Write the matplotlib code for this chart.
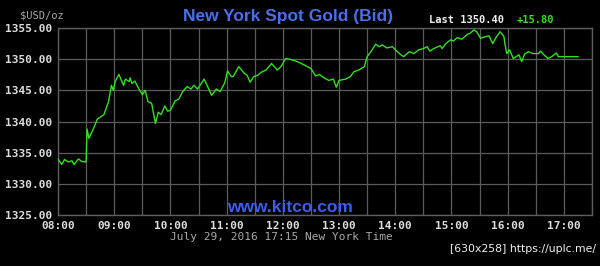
import matplotlib
matplotlib.use("Agg")
import matplotlib.pyplot as plt

# minutes after 08:00 and bid price (USD/oz)
minutes = [0, 4, 7, 11, 15, 17, 22, 25, 30, 31, 33, 38, 42, 49, 54, 57, 59, 61, 65, 70,
           72, 76, 77, 79, 82, 85, 90, 93, 96, 100, 104, 107, 110, 114, 117, 120, 125, 129,
           133, 138, 142, 145, 149, 156, 164, 169, 173, 178, 181, 185, 187, 193, 199, 202,
           205, 209, 213, 217, 222, 228, 234, 238, 243, 247, 252, 257, 265, 270, 275, 279,
           284, 289, 294, 297, 300, 307, 312, 316, 321, 327, 330, 334, 339, 343, 346, 351,
           357, 360, 366, 369, 375, 380, 385, 390, 394, 397, 401, 408, 410, 414, 419, 422,
           426, 431, 437, 440, 444, 447, 451, 456, 460, 464, 468, 472, 476, 477, 479, 482,
           486, 492, 495, 498, 502, 507, 513, 515, 518, 523, 527, 532, 534, 555]
prices = [1334.0, 1333.1, 1333.9, 1333.5, 1333.7, 1333.1, 1334.0, 1333.6, 1333.5, 1338.8,
          1337.3, 1338.9, 1340.4, 1341.1, 1343.2, 1345.8, 1345.0, 1346.4, 1347.55, 1345.8,
          1346.8, 1346.4, 1347.0, 1346.1, 1346.5, 1345.6, 1344.3, 1345.0, 1343.2, 1342.9,
          1339.7, 1341.5, 1341.1, 1342.5, 1341.65, 1341.8, 1343.3, 1343.6, 1344.8, 1345.6,
          1345.2, 1345.8, 1345.2, 1346.8, 1344.2, 1345.2, 1344.8, 1346.2, 1348.1, 1347.2,
          1347.2, 1348.8, 1347.7, 1347.4, 1346.3, 1347.2, 1347.4, 1347.9, 1348.25, 1349.3,
          1348.25, 1348.8, 1350.1, 1350.0, 1349.8, 1349.5, 1348.9, 1348.5, 1347.3, 1347.55,
          1347.0, 1346.6, 1346.8, 1345.5, 1346.6, 1346.8, 1347.2, 1348.0, 1348.25, 1348.8,
          1350.4, 1351.2, 1352.4, 1352.0, 1352.3, 1351.8, 1352.0, 1351.5, 1350.7, 1350.4,
          1351.2, 1350.9, 1351.5, 1351.7, 1352.0, 1351.3, 1351.7, 1352.15, 1351.7, 1352.5,
          1353.1, 1352.9, 1353.45, 1353.2, 1354.0, 1354.15, 1354.7, 1354.4, 1353.35, 1353.6,
          1353.75, 1352.5, 1353.6, 1354.4, 1353.6, 1352.5, 1350.9, 1351.5, 1350.1, 1350.7,
          1349.6, 1350.8, 1351.2, 1350.9, 1350.9, 1351.3, 1350.8, 1350.1, 1350.4, 1351.0,
          1350.4, 1350.4]

y_ticks = [1325, 1330, 1335, 1340, 1345, 1350, 1355]
x_tick_labels = ["08:00", "09:00", "10:00", "11:00", "12:00", "13:00", "14:00",
                 "15:00", "16:00", "17:00"]
x_tick_pos = [60 * i for i in range(len(x_tick_labels))]
x_grid_pos = [30 * i for i in range(20)]

mono = "DejaVu Sans Mono"
grid_c = "#5c5c5c"
fig = plt.figure(figsize=(6.0, 2.66), dpi=100, facecolor="black")
ax = fig.add_axes([58 / 600, 51 / 266, 534 / 600, 187 / 266])
ax.set_facecolor("black")

for gx in x_grid_pos:
    ax.axvline(gx, color=grid_c, lw=0.9, zorder=0)
ax.grid(True, which="major", axis="y", color=grid_c, lw=0.9)
ax.set_axisbelow(True)

ax.plot(minutes, prices, color="#33e020", lw=1.0, zorder=3)

ax.set_xlim(0, 570)
ax.set_ylim(1325, 1355)
ax.set_yticks(y_ticks)
ax.set_yticklabels([f"{v:.2f}" for v in y_ticks])
ax.set_xticks(x_tick_pos)
ax.set_xticklabels(x_tick_labels)
ax.tick_params(axis="both", length=0, colors="#dddddd", labelsize=8)
ax.tick_params(axis="x", pad=4)
ax.tick_params(axis="y", pad=4)
for lab in ax.get_xticklabels() + ax.get_yticklabels():
    lab.set_fontfamily(mono)
    lab.set_fontweight("bold")
for s in ax.spines.values():
    s.set_color(grid_c)
    s.set_linewidth(1.0)

fig.text(288 / 600, 1 - 17 / 266, "New York Spot Gold (Bid)", color="#4a6ef0",
         fontsize=12.5, fontweight="bold", family="Liberation Sans", ha="center", va="center")
fig.text(20 / 600, 1 - 15 / 266, "$USD/oz", color="#aaaaaa", fontsize=7.5,
         family=mono, ha="left", va="center")
fig.text(429 / 600, 1 - 20 / 266, "Last 1350.40", color="#f0f0f0", fontsize=7.5,
         family=mono, fontweight="bold", ha="left", va="center")
fig.text(517 / 600, 1 - 20 / 266, "+15.80", color="#33e020", fontsize=7.5,
         family=mono, fontweight="bold", ha="left", va="center")
fig.text(290 / 600, 1 - 207 / 266, "www.kitco.com", color="#3a5ef0", fontsize=12.5,
         fontweight="bold", family="Liberation Sans", ha="center", va="center")
fig.text(281 / 600, 1 - 237 / 266, "July 29, 2016 17:15 New York Time", color="#aaaaaa",
         fontsize=8, family=mono, ha="center", va="center")
fig.text(596 / 600, 1 - 249 / 266, "[630x258] https://uplc.me/", color="#f0f0f0",
         fontsize=7.8, family="DejaVu Sans", ha="right", va="center")

fig.savefig("out.png", dpi=100, facecolor="black")
